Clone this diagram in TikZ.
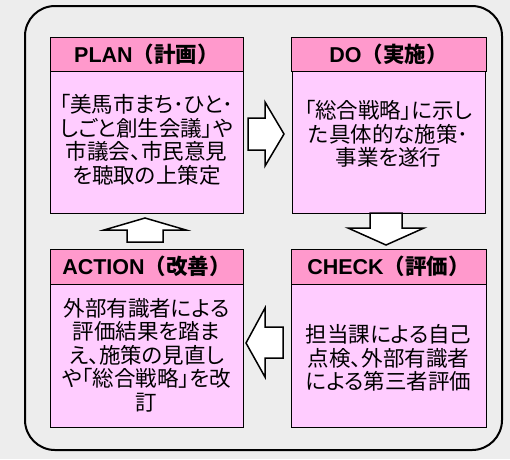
\documentclass[tikz,border=0pt]{standalone}
\usepackage{fontspec}
\setmainfont{Noto Sans CJK JP}[RawFeature=+palt]
\newfontfamily\hdrfont{Noto Sans CJK JP}
\newfontfamily\latinb{Liberation Sans}
\definecolor{bg}{HTML}{EDEDED}
\definecolor{hdrpink}{HTML}{FF99CC}
\definecolor{bodypink}{HTML}{FFCCFF}
\newcommand{\hl}[1]{{\latinb\bfseries #1}}
\begin{document}
\begin{tikzpicture}[x=1pt,y=-1pt,
  hdr/.style={draw=black,line width=0.9pt,fill=hdrpink,minimum width=193pt,minimum height=34pt,inner sep=0pt,font=\fontsize{21.5}{24}\selectfont\hdrfont\bfseries},
  bodyb/.style={draw=black,line width=0.9pt,fill=bodypink,minimum width=193pt,inner sep=0pt},
  btext/.style={align=center,inner sep=0pt,font=\fontsize{21.5}{23.5}\selectfont},
  blk/.style={draw=black,line width=1.5pt,fill=white,line join=miter}]
\useasboundingbox (0,0) rectangle (510,459);
\fill[bg] (0,0) rectangle (510,459);
\draw[line width=2pt,rounded corners=30pt] (25,6) rectangle (502,450);
% PLAN
\node[bodyb,minimum height=142pt] (planb) at (146.5,142) {};
\node[hdr] (planh) at (146.5,54) {\hl{PLAN}（計画）};
\node[btext] (plant) at (146.5,140) {「美馬市まち･ひと･\\しごと創生会議」や\\市議会、市民意見\\を聴取の上策定};
% DO
\node[bodyb,minimum height=142pt] (dob) at (388.5,142) {};
\node[hdr,minimum width=195pt] (doh) at (388.5,54) {\hl{DO}（実施）};
\node[btext] (dot) at (388.5,134) {「総合戦略」に示し\\た具体的な施策･\\事業を遂行};
% ACTION
\node[bodyb,minimum height=143pt] (actb) at (146.5,355.5) {};
\node[hdr,minimum height=35pt] (acth) at (146.5,266.5) {\hl{ACTION}（改善）};
\node[btext] (actt) at (146.5,355) {外部有識者による\\評価結果を踏ま\\え、施策の見直し\\や「総合戦略」を改\\訂};
% CHECK
\node[bodyb,minimum height=143pt,minimum width=195pt] (chkb) at (388.5,355.5) {};
\node[hdr,minimum height=35pt,minimum width=195pt] (chkh) at (388.5,266.5) {\hl{CHECK}（評価）};
\node[btext] (chkt) at (388.5,358) {担当課による自己\\点検、外部有識者\\による第三者評価};
% block arrows
\draw[blk] (248,118) -- (265,118) -- (265,102) -- (284,134) -- (265,166) -- (265,150) -- (248,150) -- cycle;
\draw[blk] (370,213) -- (402,213) -- (402,228) -- (424,228) -- (386,245) -- (348,228) -- (370,228) -- cycle;
\draw[blk] (127,242) -- (127,230) -- (104,230) -- (145,218) -- (186,230) -- (163,230) -- (163,242) -- cycle;
\draw[blk] (283,327) -- (265,327) -- (265,308) -- (246,343) -- (265,377) -- (265,358) -- (283,358) -- cycle;
\end{tikzpicture}
\end{document}
